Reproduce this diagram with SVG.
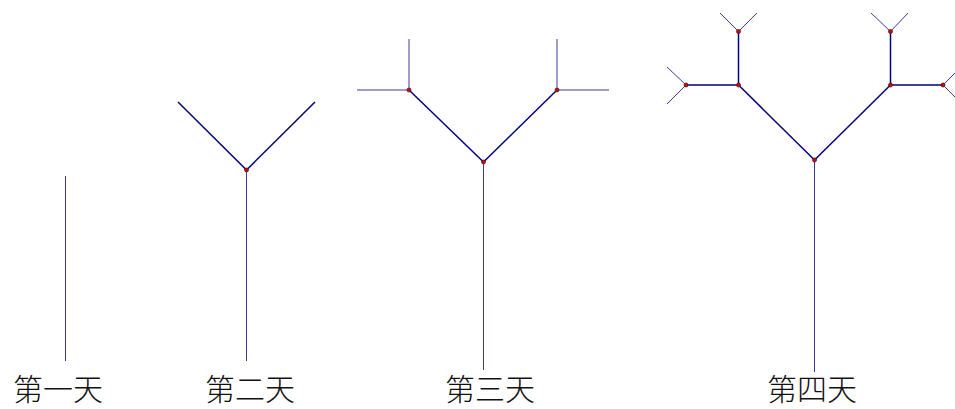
<svg xmlns="http://www.w3.org/2000/svg" width="955" height="409" viewBox="0 0 955 409">
<style>
.leaf{stroke:#3a3a9e;stroke-width:1;fill:none;stroke-linecap:butt}
.inner{stroke:#000080;stroke-width:1.5;fill:none}
.pt{fill:#e00000;stroke:#402020;stroke-width:0.8}
.lbl{font-family:"Noto Sans CJK SC","Noto Sans",sans-serif;font-size:30px;font-weight:300;fill:#111;text-anchor:middle}
</style>
<rect width="955" height="409" fill="#fff"/>
<g id="connectors">
<line class="leaf" x1="65.5" y1="176" x2="65.5" y2="361"/>
<line class="leaf" x1="246.5" y1="170" x2="246.5" y2="361"/>
<line class="inner" x1="246.5" y1="170" x2="178" y2="102"/>
<line class="inner" x1="246.5" y1="170" x2="315" y2="102"/>
<line class="leaf" x1="483.5" y1="162" x2="483.5" y2="370"/>
<line class="inner" x1="483.5" y1="162" x2="409" y2="90"/>
<line class="inner" x1="483.5" y1="162" x2="557" y2="90"/>
<line class="leaf" x1="409" y1="90" x2="409" y2="39"/>
<line class="leaf" x1="409" y1="90" x2="357" y2="90"/>
<line class="leaf" x1="557" y1="90" x2="557" y2="39"/>
<line class="leaf" x1="557" y1="90" x2="609" y2="90"/>
<line class="leaf" x1="814.5" y1="160" x2="814.5" y2="372"/>
<line class="inner" x1="814.5" y1="160" x2="738.5" y2="85"/>
<line class="inner" x1="814.5" y1="160" x2="890.5" y2="85"/>
<line class="inner" x1="738.5" y1="85" x2="738.5" y2="31.5"/>
<line class="inner" x1="738.5" y1="85" x2="686" y2="85"/>
<line class="inner" x1="890.5" y1="85" x2="890.5" y2="31.5"/>
<line class="inner" x1="890.5" y1="85" x2="943" y2="85"/>
<line class="leaf" x1="738.5" y1="31.5" x2="720" y2="13"/>
<line class="leaf" x1="738.5" y1="31.5" x2="757" y2="13"/>
<line class="leaf" x1="686" y1="85" x2="667" y2="67"/>
<line class="leaf" x1="686" y1="85" x2="667" y2="104"/>
<line class="leaf" x1="890.5" y1="31.5" x2="871" y2="13"/>
<line class="leaf" x1="890.5" y1="31.5" x2="908" y2="13"/>
<line class="leaf" x1="943" y1="85" x2="962" y2="66"/>
<line class="leaf" x1="943" y1="85" x2="962" y2="104"/>
</g>
<g id="day1"><text class="lbl" x="58" y="400">第一天</text></g>
<g id="day2">
<circle class="pt" cx="246.5" cy="170" r="2"/>
<text class="lbl" x="250" y="400">第二天</text>
</g>
<g id="day3">
<circle class="pt" cx="483.5" cy="162" r="2"/>
<circle class="pt" cx="409" cy="90" r="2"/>
<circle class="pt" cx="557" cy="90" r="2"/>
<text class="lbl" x="490" y="400">第三天</text>
</g>
<g id="day4">
<circle class="pt" cx="814.5" cy="160" r="2"/>
<circle class="pt" cx="738.5" cy="85" r="2"/>
<circle class="pt" cx="890.5" cy="85" r="2"/>
<circle class="pt" cx="738.5" cy="31.5" r="2"/>
<circle class="pt" cx="686" cy="85" r="2"/>
<circle class="pt" cx="890.5" cy="31.5" r="2"/>
<circle class="pt" cx="943" cy="85" r="2"/>
<text class="lbl" x="812" y="400">第四天</text>
</g>
</svg>
